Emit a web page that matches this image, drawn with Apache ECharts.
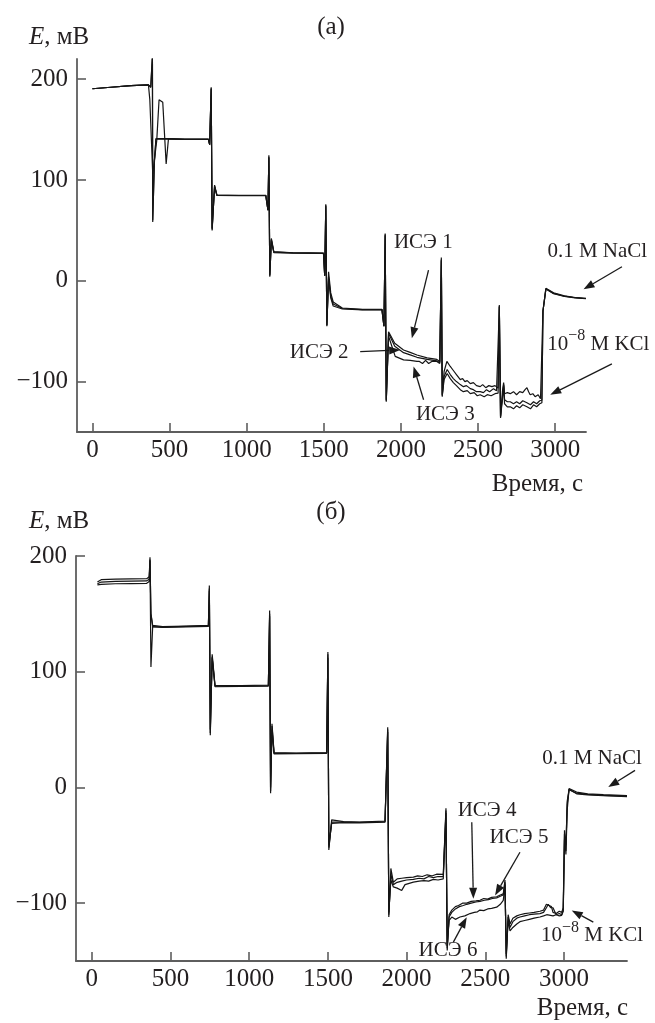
<!DOCTYPE html>
<html>
<head>
<meta charset="utf-8">
<script src="https://cdn.jsdelivr.net/npm/echarts@6/dist/echarts.min.js"></script>
<style>
html,body{margin:0;padding:0;background:#fff;}
#c{width:655px;height:1023px;}
</style>
</head>
<body>
<div id="c"></div>
<script>
// ---------- data (time, s ; E, mV) ----------
const xTicksA = [0, 500, 1000, 1500, 2000, 2500, 3000];
const xTicksB = [0, 500, 1000, 1500, 2000, 2500, 3000];
const yTicks = [-100, 0, 100, 200];

// panel (а)
const ise1 = [[0,190.5],[120,192],[250,193.5],[363,194.4],[378,192],[389,224.5],[391,58.4],[402,120],[412,141],[480,141],[600,140.5],[752,140.5],[760,135],[770,192],[776,50],[792,95],[807,85],[950,84.8],[1124,84.8],[1138,70],[1144,124.5],[1150,4],[1160,42],[1176,29],[1300,27.8],[1420,27.6],[1498,27.5],[1506,5],[1513,76],[1520,-45],[1531,9],[1545,-12],[1561,-21],[1620,-27],[1750,-28.4],[1877,-28.3],[1890,-45],[1898,47],[1905,-120],[1920,-50.5],[1960,-62],[2017,-68.6],[2060,-71],[2104,-73.6],[2170,-76.5],[2233,-78],[2252,-80],[2262,23],[2268,-115],[2280,-90],[2298,-80],[2320,-85],[2340,-89],[2360,-93],[2385,-98],[2400,-97],[2415,-100],[2430,-99],[2450,-102],[2470,-101],[2490,-104],[2514,-105],[2530,-103],[2550,-106],[2570,-104],[2590,-105],[2610,-104],[2630,-106.5],[2638,-24],[2646,-136],[2658,-110],[2666,-101],[2672,-112],[2690,-111],[2709,-112],[2730,-110],[2750,-113],[2770,-110],[2790,-111],[2805,-108],[2817,-106],[2828,-110],[2838,-113],[2855,-112],[2870,-115],[2890,-113],[2905,-117],[2914,-116.5],[2921,-30],[2940,-7.5],[2990,-12],[3060,-15],[3130,-16.6],[3200,-17.4]];
const ise2 = [[0,190.5],[120,192],[250,193.5],[363,194.4],[372,180],[391,106],[417,139],[432,179.6],[456,177],[478,116],[493,141],[600,140.3],[752,140.3],[760,135],[770,190],[776,52],[792,93],[807,85],[950,84.6],[1124,84.6],[1138,70],[1144,122],[1150,6],[1160,40],[1176,28.5],[1300,27.6],[1498,27.3],[1506,5],[1513,74],[1520,-44],[1531,4],[1545,-15],[1561,-23],[1620,-27.5],[1750,-28.6],[1877,-28.5],[1890,-45],[1898,45],[1905,-118],[1920,-52],[1960,-65],[2017,-71.3],[2060,-73.5],[2104,-75.9],[2170,-78],[2233,-79.5],[2252,-81],[2262,20],[2268,-113],[2280,-95],[2300,-88],[2320,-93],[2340,-97],[2360,-100],[2385,-103],[2405,-105],[2425,-104],[2450,-107],[2470,-108],[2490,-110],[2514,-110],[2535,-111],[2555,-108],[2575,-110],[2600,-107],[2620,-109],[2630,-108],[2638,-26],[2646,-134],[2658,-115],[2666,-103],[2672,-118],[2690,-120],[2709,-120],[2730,-122],[2750,-120],[2770,-122],[2790,-119],[2817,-121],[2840,-123],[2860,-120],[2880,-122],[2900,-119],[2914,-118.5],[2921,-30],[2940,-8],[2990,-12.5],[3060,-15.3],[3130,-16.8],[3200,-17.6]];
const ise3 = [[0,190.5],[120,192],[250,193.5],[363,194.4],[378,192],[389,222],[391,60],[402,118],[412,140.5],[480,140.6],[600,140.2],[752,140.2],[760,135],[770,191],[776,51],[792,94],[807,84.6],[950,84.5],[1124,84.5],[1138,70],[1144,123],[1150,5],[1160,41],[1176,28],[1300,27.4],[1498,27.2],[1506,5],[1513,75],[1520,-44],[1531,2],[1545,-17],[1561,-25],[1620,-28],[1750,-28.8],[1877,-28.6],[1890,-45],[1898,46],[1905,-119],[1920,-55],[1963,-75],[2017,-78.5],[2060,-79],[2104,-80],[2120,-80],[2140,-82],[2160,-79],[2180,-82],[2200,-80],[2233,-80],[2252,-82],[2262,21],[2268,-114],[2280,-98],[2300,-92],[2320,-97],[2340,-101],[2360,-104],[2385,-108],[2405,-110],[2430,-109],[2450,-112],[2475,-111],[2495,-114],[2514,-113],[2540,-115],[2560,-113],[2585,-114],[2610,-112],[2630,-111.5],[2638,-25],[2646,-135],[2658,-118],[2666,-104],[2672,-122],[2690,-125],[2709,-125],[2730,-127],[2750,-124],[2770,-126],[2790,-123],[2817,-125],[2840,-127],[2860,-123],[2880,-125],[2900,-122],[2914,-121],[2921,-30],[2940,-8.2],[2990,-12.8],[3060,-15.5],[3130,-17],[3200,-17.8]];

// panel (б)
const ise4 = [[36,177.5],[60,179.5],[150,180],[250,180.2],[349,180.4],[365,182],[370,199],[376,150],[387,140],[450,139],[600,139.5],[741,140],[747,174.6],[753,45],[765,115],[783,88.2],[950,88],[1122,88.5],[1130,153],[1136,-5],[1145,55],[1158,30],[1300,29.7],[1492,30],[1500,117],[1506,-54],[1524,-28],[1600,-29.5],[1700,-30],[1863,-29],[1880,52],[1887,-112],[1900,-70],[1916,-82],[1940,-79],[1969,-78.5],[2000,-78],[2043,-77.5],[2070,-76.5],[2100,-77],[2130,-75.5],[2160,-76.5],[2190,-75],[2233,-75.2],[2250,-18],[2258,-141],[2270,-110],[2287,-106],[2310,-103],[2330,-102],[2355,-100],[2382,-100],[2410,-98.5],[2440,-98],[2466,-97.5],[2490,-96],[2515,-96.5],[2540,-95],[2572,-94.5],[2595,-93],[2614,-92],[2625,-80],[2633,-148],[2645,-110],[2657,-118],[2675,-113],[2700,-111],[2720,-110],[2750,-109],[2780,-108.5],[2810,-108],[2847,-107],[2870,-106],[2888,-101],[2905,-102],[2920,-103],[2930,-108],[2950,-109],[2970,-107],[2985,-108],[2995,-104],[3003,-37],[3012,-58],[3020,-20],[3032,-1],[3080,-4],[3150,-5.5],[3250,-6.3],[3400,-7]];
const ise5 = [[36,176],[60,177.5],[150,178],[250,178.3],[349,178.5],[365,180],[370,197],[376,104],[387,139],[450,138.6],[600,139.2],[741,139.6],[747,172],[753,47],[765,113],[783,87.6],[950,87.7],[1122,88],[1130,150],[1136,-3],[1145,53],[1158,29.5],[1300,29.5],[1492,29.8],[1500,115],[1506,-52],[1524,-30],[1600,-30],[1700,-30.2],[1863,-29.5],[1880,50],[1887,-110],[1900,-75],[1916,-84],[1940,-82],[1969,-81],[2000,-80],[2043,-79.5],[2080,-78.5],[2110,-79],[2140,-77],[2170,-78],[2200,-77],[2233,-77],[2250,-20],[2258,-139],[2270,-112],[2287,-108],[2310,-105],[2335,-103],[2360,-102],[2382,-101],[2410,-100],[2440,-99],[2466,-98.5],[2495,-97.5],[2520,-97],[2545,-96],[2572,-95.5],[2595,-94],[2614,-93],[2625,-82],[2633,-146],[2645,-112],[2657,-121],[2675,-116],[2700,-113],[2720,-112],[2750,-111],[2780,-110],[2810,-109.5],[2847,-109],[2870,-108],[2888,-104],[2900,-101],[2915,-104],[2930,-104],[2950,-110],[2970,-109],[2985,-110],[2995,-106],[3003,-40],[3012,-50],[3020,-15],[3032,-2],[3080,-5],[3150,-6],[3250,-6.8],[3400,-7.5]];
const ise6 = [[36,175],[60,175.5],[150,176],[250,176.2],[349,176.4],[365,178],[370,196],[376,150],[387,139],[450,138.3],[600,138.8],[741,139.2],[747,170],[753,50],[765,112],[783,87],[950,87.3],[1122,87.6],[1130,148],[1136,0],[1145,50],[1158,29],[1300,29.2],[1492,29.5],[1500,112],[1506,-50],[1524,-31],[1600,-30.5],[1700,-30.6],[1863,-30],[1880,48],[1887,-108],[1900,-80],[1916,-86],[1940,-87],[1969,-89],[1990,-84],[2043,-81.8],[2080,-81],[2110,-80.5],[2140,-81],[2170,-79.5],[2200,-80],[2233,-79],[2250,-22],[2258,-137],[2270,-115],[2287,-112],[2310,-114],[2339,-112],[2370,-111],[2403,-109],[2430,-108],[2450,-107.5],[2466,-106],[2490,-106.5],[2515,-105],[2540,-104.5],[2572,-103.5],[2595,-101],[2614,-97.7],[2625,-84],[2633,-144],[2645,-115],[2657,-124],[2675,-121],[2700,-118],[2720,-116],[2750,-115],[2780,-114],[2810,-113],[2847,-112],[2870,-111],[2890,-110],[2930,-111],[2950,-110],[2970,-111],[2985,-110.6],[2995,-107],[3003,-45],[3012,-55],[3020,-12],[3032,-1.5],[3080,-5.5],[3150,-6.5],[3250,-7.2],[3400,-8]];

// annotations: label anchor and arrow (tail -> tip), in data units of each panel
const notesA = [
  {text:'ИСЭ 1', at:[2145,38], tail:[2179,10.6], tip:[2071,-57]},
  {text:'ИСЭ 2', at:[1470,-71.6], tail:[1736,-70.3], tip:[1995,-68.6]},
  {text:'ИСЭ 3', at:[2288,-133], tail:[2147,-118], tip:[2082,-85]},
  {text:'NaCl', at:[3273,29.4], tail:[3433,13.9], tip:[3184,-8.5]},
  {text:'KCl', at:[3280,-62.7], tail:[3368,-82.5], tip:[2968,-113]}
];
const notesB = [
  {text:'NaCl', at:[3178,25], tail:[3451,14.7], tip:[3281,0.3]},
  {text:'ИСЭ 4', at:[2511,-19.9], tail:[2414,-30], tip:[2424,-96.2]},
  {text:'ИСЭ 5', at:[2714,-43.2], tail:[2720,-56], tip:[2562,-93.3]},
  {text:'ИСЭ 6', at:[2263,-141], tail:[2297,-133.7], tip:[2382,-112.1]},
  {text:'KCl', at:[3178,-128], tail:[3186,-116.4], tip:[3049,-106.3]}
];

// ---------- chart ----------
const FONT = '"Liberation Serif","Times New Roman",serif';
const TXT = '#231f20';
const AX = '#5e5e5e';
const chart = echarts.init(document.getElementById('c'), null, {renderer:'canvas'});

function xAxisCfg(grid, min, max, ticks){
  return {
    type:'value', gridIndex:grid, min:min, max:max,
    axisLine:{show:true, onZero:false, lineStyle:{color:AX, width:1.8}},
    axisTick:{show:true, inside:true, length:9, customValues:ticks, lineStyle:{color:AX, width:1.6}},
    axisLabel:{show:true, customValues:ticks, margin:6, color:TXT, fontFamily:FONT, fontSize:25,
      formatter:function(v){return String(v);}},
    splitLine:{show:false}
  };
}
function yAxisCfg(grid, min, max){
  return {
    type:'value', gridIndex:grid, min:min, max:max,
    axisLine:{show:true, onZero:false, lineStyle:{color:AX, width:1.8}},
    axisTick:{show:true, inside:true, length:9, customValues:yTicks, lineStyle:{color:AX, width:1.6}},
    axisLabel:{show:true, customValues:yTicks, margin:9, color:TXT, fontFamily:FONT, fontSize:25,
      formatter:function(v){return v<0 ? '\u2212'+Math.abs(v) : String(v);}},
    splitLine:{show:false}
  };
}
function lineSeries(name, data, xi){
  return {name:name, type:'line', xAxisIndex:xi, yAxisIndex:xi, data:data, showSymbol:false,
    symbol:'none', lineStyle:{color:'#151515', width:1.2}, silent:true, animation:false, clip:true};
}

chart.setOption({
  animation:false,
  backgroundColor:'#ffffff',
  grid:[
    {left:77, top:59, width:509, height:373},
    {left:76, top:556, width:551, height:405}
  ],
  xAxis:[xAxisCfg(0,-100,3200,xTicksA), xAxisCfg(1,-100,3400,xTicksB)],
  yAxis:[yAxisCfg(0,-150,220), yAxisCfg(1,-150,200)],
  series:[
    lineSeries('ИСЭ 1', ise1, 0), lineSeries('ИСЭ 2', ise2, 0), lineSeries('ИСЭ 3', ise3, 0),
    lineSeries('ИСЭ 4', ise4, 1), lineSeries('ИСЭ 5', ise5, 1), lineSeries('ИСЭ 6', ise6, 1)
  ]
});

function px(g, p){ return chart.convertToPixel({xAxisIndex:g, yAxisIndex:g}, p); }
function arrow(a, b){
  const dx=b[0]-a[0], dy=b[1]-a[1], L=Math.hypot(dx,dy), ux=dx/L, uy=dy/L;
  const hl=11, hw=4;
  const bx=b[0]-ux*hl, by=b[1]-uy*hl;
  return [
    {type:'line', shape:{x1:a[0],y1:a[1],x2:bx,y2:by}, style:{stroke:'#1a1a1a', lineWidth:1.3}, silent:true},
    {type:'polygon', shape:{points:[[b[0],b[1]],[bx-uy*hw,by+ux*hw],[bx+uy*hw,by-ux*hw]]}, style:{fill:'#1a1a1a'}, silent:true}
  ];
}
function noteText(t){
  if(t==='NaCl') return {text:'0.1 M NaCl'};
  if(t==='KCl') return {text:'{n|10}{s|\u22128}{n| M KCl}', rich:{n:{fontSize:21,fontFamily:FONT,fill:TXT}, s:{fontSize:16,fontFamily:FONT,fill:TXT,verticalAlign:'top',lineHeight:32}}};
  return {text:t};
}
const els = [];
[[0,notesA],[1,notesB]].forEach(function(pair){
  const g=pair[0];
  pair[1].forEach(function(n){
    const p=px(g,n.at);
    const st=noteText(n.text);
    els.push({type:'text', x:p[0], y:p[1], silent:true, style:Object.assign({fontSize:21, fontFamily:FONT, fill:TXT, align:'center', verticalAlign:'middle'}, st)});
    arrow(px(g,n.tail), px(g,n.tip)).forEach(function(e){els.push(e);});
  });
});
// axis titles and panel letters
const titles = [
  {x:29, y:50, text:'{i|E}{n|, мВ}', align:'left', vb:'bottom'},
  {x:29, y:534, text:'{i|E}{n|, мВ}', align:'left', vb:'bottom'},
  {x:583, y:497, text:'{n|Время, с}', align:'right', vb:'bottom'},
  {x:628, y:1021, text:'{n|Время, с}', align:'right', vb:'bottom'},
  {x:331, y:27, text:'{n|(а)}', align:'center', vb:'middle'},
  {x:331, y:512, text:'{n|(б)}', align:'center', vb:'middle'}
];
titles.forEach(function(t){
  els.push({type:'text', x:t.x, y:t.y, silent:true, style:{text:t.text, align:t.align, verticalAlign:t.vb,
    rich:{i:{fontSize:25,fontFamily:FONT,fontStyle:'italic',fill:TXT}, n:{fontSize:25,fontFamily:FONT,fill:TXT}}}});
});
chart.setOption({graphic:{elements:els}});
</script>
</body>
</html>
